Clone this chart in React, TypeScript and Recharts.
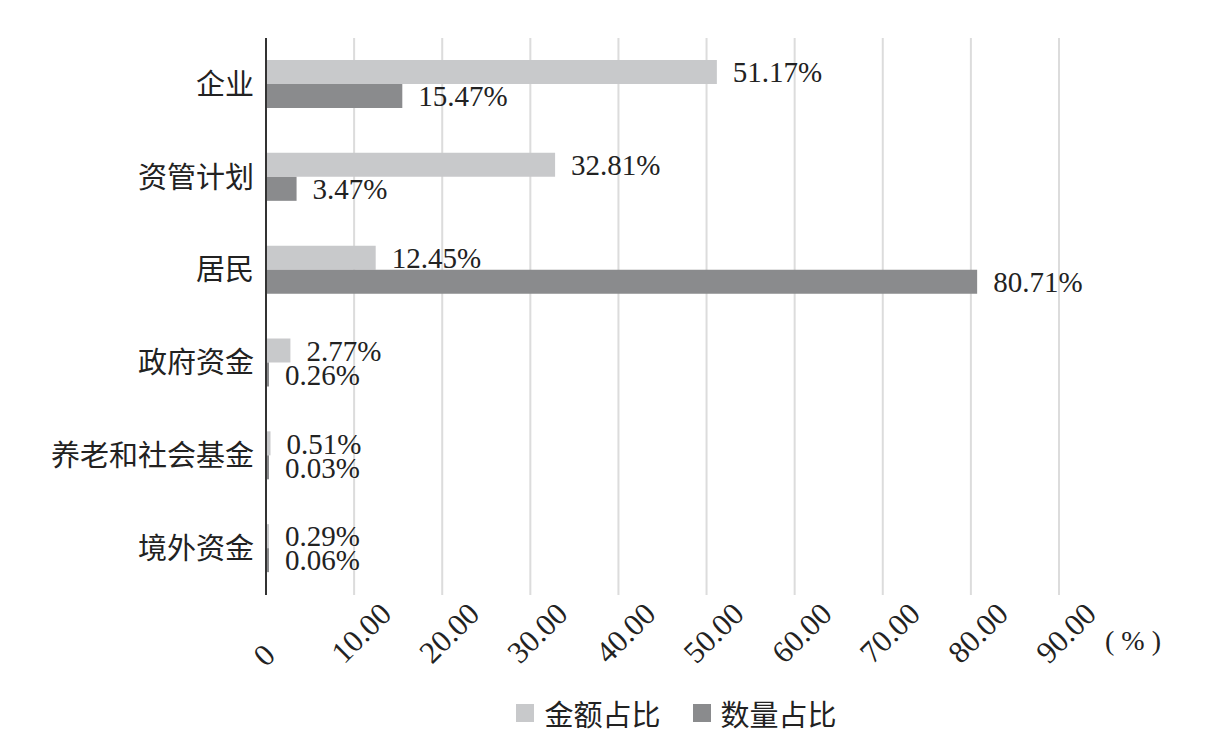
import {
    BarChart,
    Bar,
    XAxis,
    YAxis,
    CartesianGrid,
    Legend,
    LabelList,
} from "recharts";

const categories = ["企业", "资管计划", "居民", "政府资金", "养老和社会基金", "境外资金"];
const amountShare = [51.17, 32.81, 12.45, 2.77, 0.51, 0.29];
const countShare = [15.47, 3.47, 80.71, 0.26, 0.03, 0.06];
const xTicks = [0, 10, 20, 30, 40, 50, 60, 70, 80, 90];

const seriesNames = ["金额占比", "数量占比"];
const LIGHT = "#c8c9cb";
const DARK = "#8a8b8d";
const FONT = "'Liberation Serif', 'Noto Sans CJK SC', serif";

const data = categories.map((name, i) => ({
    name,
    amount: amountShare[i],
    count: countShare[i],
}));

const XTick = ({ x, y, payload }: any) => {
    const isZero = payload.value === 0;
    const label = isZero ? "0" : payload.value.toFixed(2);
    // the lone "0" sits a bit lower-left than the others
    const dx = isZero ? -2 : 7;
    const dy = isZero ? 52 : 30;
    return (
        <text
            transform={`translate(${x + dx}, ${y + dy}) rotate(-45)`}
            textAnchor="middle"
            dominantBaseline="central"
            fontSize={31}
            fontFamily={FONT}
            fill="#222"
        >
            {label}
        </text>
    );
};

const UnitLabel = (props: any) => {
    const vb = props.viewBox;
    return (
        <text
            x={vb.x + vb.width + 46}
            y={vb.y + 45}
            dominantBaseline="central"
            fontSize={28}
            fontFamily={FONT}
            fill="#222"
            style={{ whiteSpace: "pre" }}
        >
            {"( % )"}
        </text>
    );
};

const LegendContent = () => (
    <div
        style={{
            display: "flex",
            justifyContent: "center",
            alignItems: "center",
            paddingLeft: 294,
            paddingTop: 5,
            fontFamily: FONT,
            fontSize: 29,
            color: "#222",
        }}
    >
        {seriesNames.map((n, i) => (
            <div key={n} style={{ display: "flex", alignItems: "center", marginRight: i === 0 ? 32 : 0 }}>
                <span
                    style={{
                        width: 18,
                        height: 18,
                        background: i === 0 ? LIGHT : DARK,
                        display: "inline-block",
                        marginRight: 10,
                    }}
                />
                <span>{n}</span>
            </div>
        ))}
    </div>
);

const pctLabel = (v: any) => `${Number(v).toFixed(2)}%`;

export default function App() {
    return (
        <div style={{ position: "absolute", left: 0, top: 0, background: "#fff" }}>
            <BarChart
                width={1216}
                height={737}
                data={data}
                layout="vertical"
                margin={{ top: 38, right: 157, left: 0, bottom: 0 }}
                barGap={0}
                barCategoryGap="24%"
            >
                <CartesianGrid horizontal={false} stroke="#dcdcdc" strokeWidth={2} />
                <XAxis
                    type="number"
                    domain={[0, 90]}
                    ticks={xTicks}
                    interval={0}
                    axisLine={false}
                    tickLine={false}
                    height={92}
                    tick={<XTick />}
                    label={UnitLabel}
                />
                <YAxis
                    type="category"
                    dataKey="name"
                    width={266}
                    axisLine={{ stroke: "#333", strokeWidth: 2 }}
                    tickLine={false}
                    tickMargin={6}
                    tick={{ fontSize: 29, fill: "#222", fontFamily: FONT }}
                />
                <Legend verticalAlign="bottom" height={50} content={<LegendContent />} />
                <Bar dataKey="amount" name={seriesNames[0]} fill={LIGHT} barSize={24} minPointSize={3} isAnimationActive={false}>
                    <LabelList
                        dataKey="amount"
                        position="right"
                        offset={16}
                        formatter={pctLabel}
                        style={{ fontSize: 29, fill: "#222", fontFamily: FONT }}
                    />
                </Bar>
                <Bar dataKey="count" name={seriesNames[1]} fill={DARK} barSize={24} minPointSize={3} isAnimationActive={false}>
                    <LabelList
                        dataKey="count"
                        position="right"
                        offset={16}
                        formatter={pctLabel}
                        style={{ fontSize: 29, fill: "#222", fontFamily: FONT }}
                    />
                </Bar>
            </BarChart>
        </div>
    );
}
